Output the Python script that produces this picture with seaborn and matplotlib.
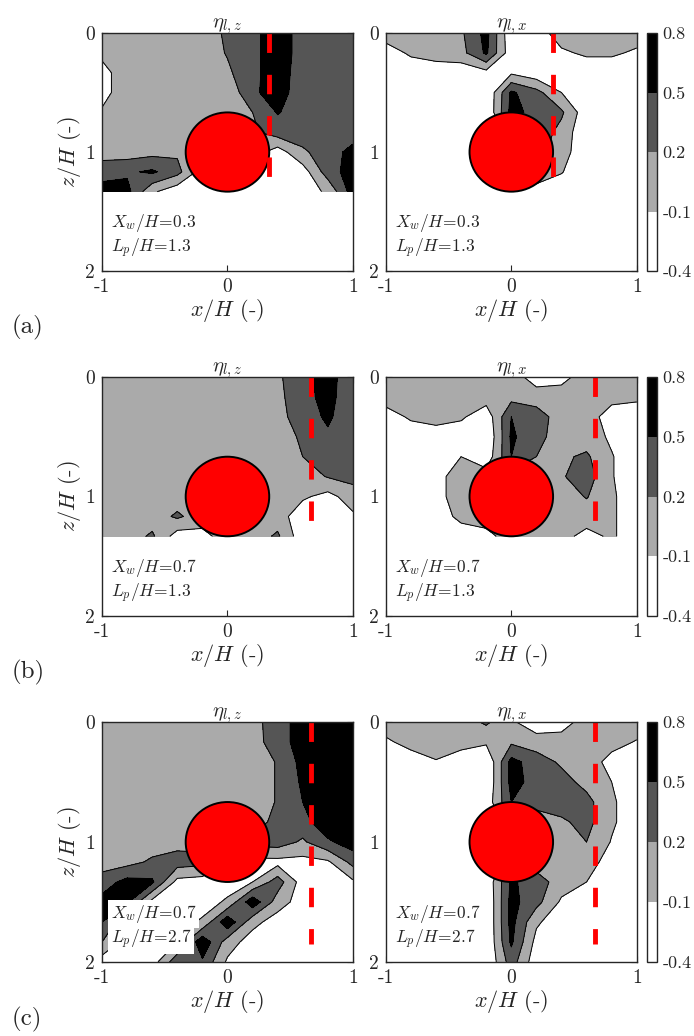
import numpy as np
import matplotlib
matplotlib.use('Agg')
import matplotlib.pyplot as plt
from matplotlib.patches import Circle
import seaborn as sns

# grid nodes (x/H across, z/H down)
x_nodes = [-1.0, -0.8, -0.6, -0.4, -0.2, 0.0, 0.2, 0.4, 0.6, 0.8, 1.0]
z_short = [0.0, 0.167, 0.333, 0.5, 0.667, 0.833, 1.0, 1.167, 1.333]
z_long = [0.0, 0.167, 0.333, 0.5, 0.667, 0.833, 1.0, 1.167, 1.333, 1.5, 1.667, 1.833, 2.0]

# contour levels + tick labels of the colour bar
levels = [-0.4, -0.1, 0.2, 0.5, 0.8]
level_labels = ['-0.4', '-0.1', '0.2', '0.5', '0.8']

# case parameters (wall position, plate length) for rows a, b, c
xw_pos = [0.333, 0.667, 0.667]
line_end = [1.333, 1.333, 1.85]
xw_text = ['0.3', '0.7', '0.7']
lp_text = ['1.3', '1.3', '2.7']

# (a) eta_lz
eta_lz_a = [
    [0.05, 0.05, 0.05, 0.05, 0.05, 0.25, 0.4, 0.7, 0.35, 0.35, 0.35],
    [0.0, 0.05, 0.05, 0.05, 0.05, 0.22, 0.4, 0.7, 0.35, 0.35, 0.35],
    [-0.25, 0.15, 0.05, 0.05, 0.05, 0.15, 0.4, 0.7, 0.3, 0.35, 0.35],
    [-0.25, 0.15, 0.05, 0.05, 0.05, 0.0, 0.42, 0.7, 0.25, 0.35, 0.35],
    [-0.05, 0.05, 0.05, 0.05, 0.05, 0.0, 0.2, 0.52, 0.35, 0.35, 0.35],
    [0.05, 0.05, 0.05, 0.05, 0.05, 0.05, 0.15, 0.35, 0.35, 0.35, 0.35],
    [0.05, 0.05, 0.1, 0.15, 0.05, 0.05, 0.05, -0.25, 0.15, 0.35, 0.6],
    [0.4, 0.45, 0.55, 0.3, -0.25, -0.25, -0.25, -0.25, -0.25, 0.35, 0.65],
    [0.6, 0.6, -0.05, -0.3, -0.25, -0.25, -0.25, -0.25, -0.25, -0.05, 0.65],
]
# (a) eta_lx
eta_lx_a = [
    [0.05, 0.05, 0.05, 0.15, 0.6, -0.35, -0.25, 0.05, 0.05, 0.05, 0.05],
    [-0.25, -0.05, 0.05, 0.1, 0.55, -0.3, -0.3, -0.15, -0.05, -0.05, -0.15],
    [-0.3, -0.3, -0.3, -0.3, -0.2, -0.15, -0.3, -0.3, -0.3, -0.3, -0.3],
    [-0.3, -0.3, -0.3, -0.3, -0.4, 0.55, 0.3, -0.1, -0.3, -0.3, -0.3],
    [-0.3, -0.3, -0.3, -0.3, -0.4, 0.6, 0.4, 0.25, -0.3, -0.3, -0.3],
    [-0.3, -0.3, -0.3, -0.3, -0.3, 0.0, 0.4, 0.1, -0.35, -0.3, -0.3],
    [-0.3, -0.3, -0.3, -0.3, -0.3, -0.3, 0.3, 0.05, -0.35, -0.3, -0.3],
    [-0.3, -0.3, -0.3, -0.3, -0.3, -0.3, 0.05, -0.08, -0.35, -0.3, -0.3],
    [-0.3, -0.3, -0.3, -0.3, -0.3, -0.3, -0.2, -0.3, -0.3, -0.3, -0.3],
]
# (b) eta_lz
eta_lz_b = [
    [0.05, 0.05, 0.05, 0.05, 0.05, 0.05, 0.05, 0.15, 0.4, 0.62, 0.3],
    [0.05, 0.05, 0.05, 0.05, 0.05, 0.05, 0.05, 0.12, 0.4, 0.6, 0.3],
    [0.05, 0.05, 0.05, 0.05, 0.05, 0.05, 0.05, 0.1, 0.35, 0.55, 0.3],
    [0.05, 0.05, 0.05, 0.05, 0.05, 0.05, 0.05, 0.05, 0.25, 0.45, 0.35],
    [0.05, 0.05, 0.05, 0.05, 0.05, 0.05, 0.05, 0.05, 0.2, 0.35, 0.35],
    [0.05, 0.05, 0.05, 0.05, 0.05, 0.05, 0.05, 0.05, 0.05, 0.22, 0.3],
    [0.05, 0.05, 0.05, 0.05, 0.05, 0.05, 0.05, 0.05, -0.05, -0.2, 0.05],
    [0.05, 0.05, 0.05, 0.25, 0.05, 0.05, 0.05, 0.05, -0.3, -0.3, -0.15],
    [0.05, 0.05, 0.25, -0.25, -0.2, 0.05, 0.05, 0.25, -0.3, -0.3, -0.3],
]
# (b) eta_lx
eta_lx_b = [
    [0.05, 0.05, 0.05, 0.05, 0.05, 0.05, -0.25, -0.2, 0.05, 0.05, 0.05],
    [0.05, 0.05, 0.05, 0.05, 0.05, 0.1, 0.05, 0.05, 0.05, 0.0, -0.05],
    [-0.25, -0.05, 0.05, -0.05, -0.3, 0.5, 0.35, 0.05, 0.05, -0.25, -0.25],
    [-0.3, -0.3, -0.3, -0.3, -0.4, 0.55, 0.3, 0.05, 0.05, -0.15, -0.3],
    [-0.3, -0.3, -0.3, -0.1, -0.3, 0.5, 0.2, 0.15, 0.25, -0.08, -0.3],
    [-0.3, -0.3, -0.2, 0.05, 0.05, 0.05, 0.05, 0.17, 0.35, -0.08, -0.3],
    [-0.3, -0.3, -0.2, 0.05, 0.05, 0.05, 0.05, 0.05, 0.22, -0.05, -0.3],
    [-0.3, -0.3, -0.3, 0.0, 0.05, 0.05, 0.05, 0.05, 0.05, -0.05, -0.3],
    [-0.3, -0.3, -0.3, -0.3, -0.2, 0.05, 0.05, 0.0, -0.2, -0.05, -0.3],
]
# (c) eta_lz
eta_lz_c = [
    [0.05, 0.05, 0.05, 0.05, 0.05, 0.05, 0.1, 0.35, 0.65, 0.7, 0.7],
    [0.05, 0.05, 0.05, 0.05, 0.05, 0.05, 0.08, 0.35, 0.65, 0.7, 0.7],
    [0.05, 0.05, 0.05, 0.05, 0.05, 0.05, 0.05, 0.22, 0.6, 0.7, 0.7],
    [0.05, 0.05, 0.05, 0.05, 0.05, 0.05, 0.05, 0.22, 0.55, 0.7, 0.7],
    [0.05, 0.05, 0.05, 0.05, 0.05, 0.05, 0.05, 0.22, 0.5, 0.7, 0.7],
    [0.05, 0.05, 0.05, 0.05, 0.05, 0.05, 0.05, 0.3, 0.4, 0.7, 0.7],
    [0.05, 0.05, 0.05, 0.08, 0.1, 0.1, 0.3, 0.35, 0.15, 0.45, 0.65],
    [0.05, 0.1, 0.25, 0.35, 0.3, -0.2, -0.2, -0.2, -0.2, -0.15, 0.3],
    [0.35, 0.6, 0.55, -0.2, -0.25, -0.25, -0.1, 0.35, -0.25, -0.25, -0.15],
    [0.6, 0.55, -0.2, -0.25, -0.25, -0.05, 0.7, 0.05, -0.25, -0.25, -0.25],
    [0.5, -0.05, -0.25, -0.25, -0.05, 0.72, 0.0, -0.25, -0.25, -0.25, -0.25],
    [0.2, -0.25, -0.25, -0.1, 0.72, 0.05, -0.25, -0.25, -0.25, -0.25, -0.25],
    [-0.25, -0.25, -0.25, 0.4, 0.45, -0.15, -0.25, -0.25, -0.25, -0.25, -0.25],
]
# (c) eta_lx
eta_lx_c = [
    [0.05, 0.05, 0.05, 0.05, 0.25, -0.05, -0.3, -0.25, 0.05, 0.05, 0.05],
    [-0.15, 0.0, 0.05, 0.0, -0.05, 0.15, 0.05, 0.05, 0.05, 0.0, -0.12],
    [-0.3, -0.25, -0.12, -0.25, -0.4, 0.6, 0.35, 0.15, 0.05, -0.2, -0.3],
    [-0.3, -0.3, -0.3, -0.3, -0.4, 0.6, 0.4, 0.32, 0.1, -0.1, -0.3],
    [-0.3, -0.3, -0.3, -0.3, -0.3, 0.5, 0.3, 0.35, 0.3, -0.05, -0.3],
    [-0.3, -0.3, -0.3, -0.3, -0.3, 0.05, 0.05, 0.15, 0.3, -0.05, -0.3],
    [-0.3, -0.3, -0.3, -0.3, -0.3, -0.3, 0.05, 0.05, 0.2, -0.12, -0.3],
    [-0.3, -0.3, -0.3, -0.3, -0.3, 0.05, 0.05, 0.05, 0.05, -0.25, -0.3],
    [-0.3, -0.3, -0.3, -0.3, -0.35, 0.55, 0.35, 0.05, -0.1, -0.3, -0.3],
    [-0.3, -0.3, -0.3, -0.3, -0.4, 0.6, 0.3, -0.15, -0.3, -0.3, -0.3],
    [-0.3, -0.3, -0.3, -0.3, -0.4, 0.6, -0.05, -0.3, -0.3, -0.3, -0.3],
    [-0.3, -0.3, -0.3, -0.3, -0.4, 0.55, -0.2, -0.3, -0.3, -0.3, -0.3],
    [-0.3, -0.3, -0.3, -0.3, -0.4, 0.35, -0.3, -0.3, -0.3, -0.3, -0.3],
]

sns.set_style('ticks')
plt.rcParams['font.family'] = ['cmr10', 'DejaVu Serif']
plt.rcParams['mathtext.fontset'] = 'cm'
plt.rcParams['axes.unicode_minus'] = False
plt.rcParams['axes.formatter.use_mathtext'] = True

shade_colors = sns.color_palette(['#ffffff', '#aaaaaa', '#555555', '#000000'])

fig = plt.figure(figsize=(6.94, 10.36), dpi=100)

row_bottom = [0.7384, 0.4054, 0.0714]
row_height = [0.2297, 0.2307, 0.2317]
left_x, right_x, panel_w = 0.147, 0.556, 0.3615


def draw_panel(ax, field, z_nodes, row, title, boxed, ylab):
    cf = ax.contourf(x_nodes, z_nodes, np.array(field), levels=levels, colors=shade_colors, zorder=1)
    ax.contour(x_nodes, z_nodes, np.array(field), levels=levels[1:-1], colors='k',
               linewidths=0.7, linestyles='solid', zorder=2)
    ax.add_patch(Circle((0, 1), 0.333, facecolor='red', edgecolor='k', lw=1.4, zorder=3))
    ax.plot([xw_pos[row], xw_pos[row]], [0, line_end[row]], color='red', lw=3.5,
            ls=(0, (4, 4.5)), solid_capstyle='butt', dash_capstyle='butt', zorder=4)
    box = dict(facecolor='white', edgecolor='none', pad=2) if boxed else None
    ax.text(-0.93, 1.6, r'$X_w/H\!=\!$' + r'$' + xw_text[row] + '$', fontsize=12.5, va='center', bbox=box, zorder=5)
    ax.text(-0.93, 1.81, r'$L_p/H\!=\!$' + r'$' + lp_text[row] + '$', fontsize=12.5, va='center', bbox=box, zorder=5)
    ax.set_xlim(-1, 1)
    ax.set_ylim(2, 0)
    ax.set_xticks([-1, 0, 1])
    ax.set_xticklabels(['-1', '0', '1'])
    ax.set_yticks([0, 1, 2])
    ax.set_yticklabels(['0', '1', '2'])
    ax.tick_params(direction='in', top=True, right=True, length=4, width=0.8, labelsize=14, pad=5)
    ax.set_title(title, fontsize=15, pad=4)
    ax.set_xlabel(r'$x/H$ (-)', fontsize=16, labelpad=1)
    if ylab:
        ax.set_ylabel(r'$z/H$ (-)', fontsize=16, labelpad=2)
    for sp in ax.spines.values():
        sp.set_linewidth(1.0)
        sp.set_zorder(6)
    return cf


fields = [(eta_lz_a, eta_lx_a, z_short), (eta_lz_b, eta_lx_b, z_short), (eta_lz_c, eta_lx_c, z_long)]
for row, (f_lz, f_lx, zz) in enumerate(fields):
    axl = fig.add_axes([left_x, row_bottom[row], panel_w, row_height[row]])
    axr = fig.add_axes([right_x, row_bottom[row], panel_w, row_height[row]])
    draw_panel(axl, f_lz, zz, row, r'$\eta_{l,z}$', row == 2, True)
    cf = draw_panel(axr, f_lx, zz, row, r'$\eta_{l,x}$', False, False)
    cax = fig.add_axes([0.932, row_bottom[row], 0.0144, row_height[row]])
    cb = fig.colorbar(cf, cax=cax, ticks=levels)
    cb.set_ticklabels(level_labels)
    cb.ax.tick_params(length=0, labelsize=13, pad=4)
    cb.outline.set_linewidth(1.0)

fig.text(0.017, 0.684, '(a)', fontsize=18, va='center')
fig.text(0.017, 0.351, '(b)', fontsize=18, va='center')
fig.text(0.017, 0.016, '(c)', fontsize=18, va='center')

fig.savefig('out.png', dpi=100)
